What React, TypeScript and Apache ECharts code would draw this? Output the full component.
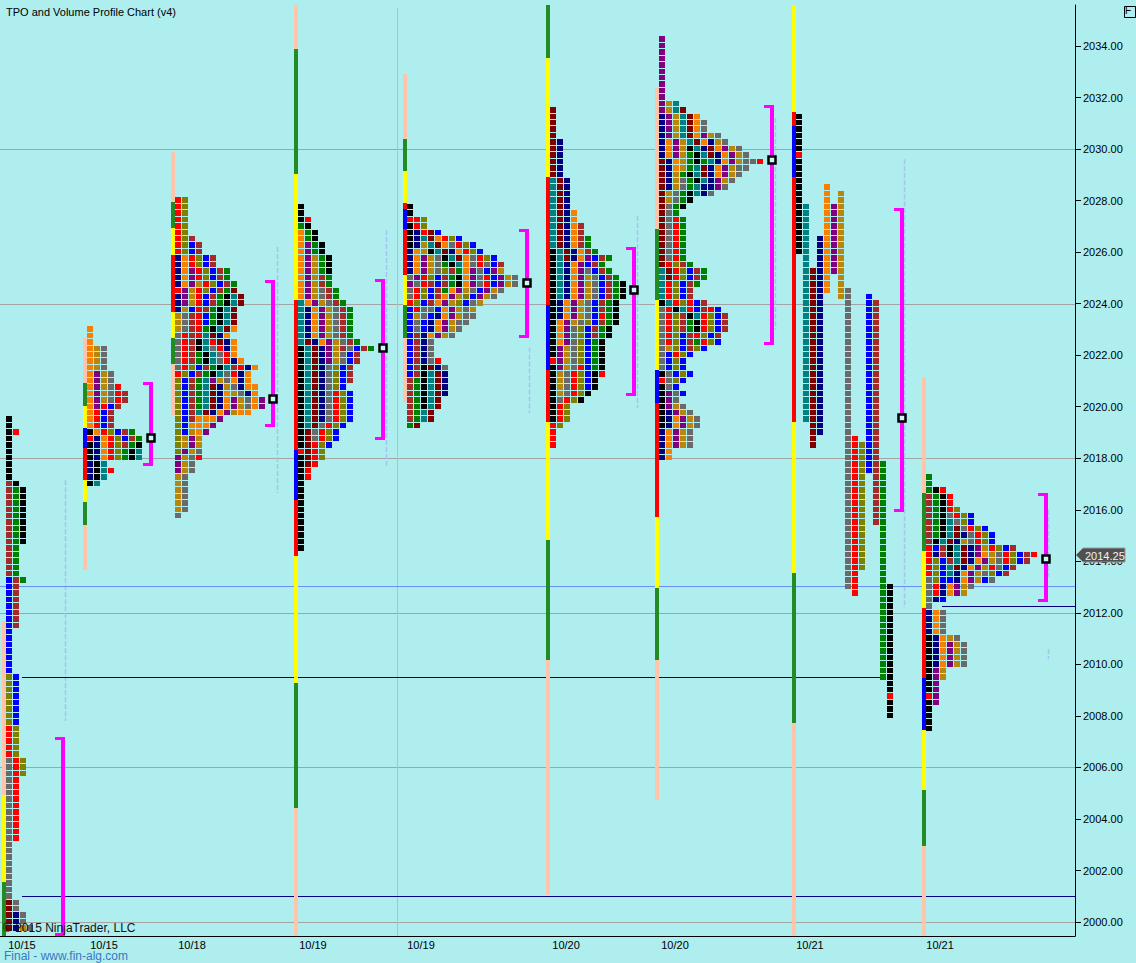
import React, { useEffect, useRef } from "react";
import * as echarts from "echarts";

// ---------- axes ----------
const TICK = 0.25;
const X_MAX = 153.57; // time slots (one TPO column each)
const Y_MIN = 1999.46;
const Y_MAX = 2035.59;
const PRICE_TICKS = [2000, 2002, 2004, 2006, 2008, 2010, 2012, 2014, 2016, 2018, 2020, 2022, 2024, 2026, 2028, 2030, 2032, 2034];
const GRID_LEVELS = [2000, 2006, 2012, 2018, 2024, 2030];
const SESSION_DATES = ["10/15", "10/15", "10/18", "10/19", "10/19", "10/20", "10/20", "10/21", "10/21"];
const DATE_LABEL_SLOTS = [3.14, 14.86, 27.43, 44.71, 60.14, 80.86, 96.43, 115.71, 134.29];
const LAST_PRICE = 2014.25;

// ---------- profiles ----------
const PROFILE_STARTS = [0.86, 12.43, 25.0, 42.57, 58.14, 78.57, 94.14, 113.71, 132.29];
const PROFILE_TOPS = [2019.5, 2023.0, 2028.0, 2027.75, 2027.75, 2031.5, 2034.25, 0, 2017.25];

const P1_ROWS = [
  "K", "K", "KR", "K", "K", "K", "K", "K", "K", "K",
  "WK",
  "WGK", "WGK", "WGK", "WGK", "WGK", "WGK", "WGK", "WGK", "WGK",
  "WG", "WG", "WG", "WG", "WG",
  "BWG",
  "BW", "BW", "BW", "BW", "BW", "BW", "BW",
  "B", "B", "B", "B", "B", "B", "B",
  "LB", "LB", "LB", "LB", "LB", "LB", "LB", "LB",
  "RL", "RL", "RL", "RL", "RL",
  "YRL", "YRL", "YRL",
  "YR", "YR", "YR", "YR", "YR", "YR", "YR", "YR", "YR", "YR",
  "Y", "Y", "Y", "Y", "Y", "Y", "Y", "Y", "Y",
  "MY", "MY", "MNY", "MNY", "MNDY",
];

const P2_ROWS = [
  "O", "O", "O", "ODY", "ODY", "ODY", "ODY", "OPDY", "OPDY", "OPDYR", "OPDYRW", "OPDYRW",
  "OPRBW", "ORBW", "ORBW", "ORBW", "KORLBWG", "RNORLBWG", "KNORLWGK", "KNORLGKT", "KNORLGKT",
  "NKT", "NKTR", "NKT", "KT",
];

const P3_ROWS = [
  "RL", "RL", "RL", "RL", "RL", "RL", "RLW", "RLBW", "RLBW", "NORLBW", "NORLBW",
  "NOPRLBWG", "NOPRLBWG", "NOPDRLBWG", "RPDRLBWGM", "NPDRBWGKTM", "NPDRBWGKTM", "NDBRWGKTM",
  "DYWRBGKTM", "DYWRBGKTM", "DYWRGKTMO", "YRWRTMNO", "YRWKTRMNO", "YRWKTYRNO", "YRWGKTYRO",
  "YRWGKTYRNO", "YRLBWGKTWRNO", "RLBWGKTYRNO", "LBWGTPDYONO", "LBWGTMNDYNOO", "LBWGTMNODYNO",
  "LBWGTMNOPDYOP", "LBWGTMNOPDYOP", "LBWTMNOPDOO", "LBWOOOP", "LBOOOP", "LBDOP",
  "LDPD", "LDPD", "LPDY", "PDYR", "PDY", "PDY", "DY", "DY", "DY", "DY", "DY", "DY", "Y",
];

const P4_ROWS = [
  "K", "K", "KR", "GK", "OGK", "OGK", "OPGK", "OPGK", "OPDGK", "OPDGK", "OPDGK", "OPDWG", "OPDWG",
  "OPDYWG", "OPDYWG", "TOPDYWG", "TNOPDYWG", "TNOPDYWG", "TNOPDYWG", "TNOPDYWG", "TNOPDYWG",
  "TMNOPDYWG", "KTMNPDWYBWG", "KTMNPDYBW", "KTMNPDYBW", "KTMNYLBW", "KTMNYLBW", "KTMNYLBW",
  "KTMNYLB", "KTMNYRLB", "KTMNYRLB", "KTMNYRLB", "KTMNYRLB", "KTMNYRLB", "KTMYRLB", "KMYRLB",
  "KMYRLB", "KMRLB", "RMRL", "KMRL", "KMR", "KR", "KR",
  "K", "K", "K", "K", "K", "K", "K", "K", "K", "K", "K",
];

const P5_ROWS = [
  "K", "K", "RRL", "KRL", "KNRMB", "KNTMORLB", "KNDTMOYRLB", "NODKTMNORLB", "NOPDYKTMOYRLB",
  "NOPDYGKTOYRYBW", "NOPDYLWGOPYBPD", "YPRLBWGKOPYRBPDY", "PYRWBWGKOPYRBPDY", "YRLBWGOPDYBPDY",
  "YRLBWOPDLBPDY", "RLBWOPDLBYD", "BRYYBOPDYD", "BDYBNOPDYY", "BYBNOPDYY", "BYBNOPDY", "BWNOPDY",
  "BWNY", "BWNY", "BWNY", "BWNYR", "BWKMNY", "BWKTMN", "WGKTMN", "WGKTMN", "WGKTMN", "WGKTM",
  "WGKTM", "WGTM", "WGTM", "GM",
];

const P6_ROWS = [
  "M", "M", "M", "M", "M", "MN", "MN", "MN", "MN", "MN", "MN", "TMN", "TMN", "TMN", "TMN", "TMN",
  "TMNO", "TMNO", "TMNOW", "TMNOW", "TMNOWG", "TMNOWG", "KTMNOWG", "KTMNOPBWG", "KTNOPBWG",
  "KTNOPYBWG", "KTNOPDYBWG", "KTNOPDYBWGK", "KTNOPDYBWGK", "KTNOPDYBWGK", "KNOPDYBWGK",
  "KNOPDYBWGK", "KNOPDYBRGK", "KOPDYLBWGK", "KOPYLBWGK", "KOPYLBWGK", "KOPYLBGK", "KPDYLBGK",
  "KPDYLBGK", "RPDYLBGK", "KPDYRBGK", "KDYRLBKR", "KDYRLBK", "KDYRLBK", "KDYRLK", "KYRLK",
  "KRL", "KRL", "KRL", "RL", "R", "R", "R",
];

const P7_ROWS = [
  "P", "P", "P", "P", "P", "P", "P", "P", "P", "P", "PDT", "PDTM", "NPDTMO", "NPDTMOY", "NPDTMOY",
  "NPDTMOPDY", "NOPDTMONDY", "NOPDKTNMOPDY", "NOPDGKTMNOPDY", "MNODGKGTNOPDYYR", "MNODGTMNOPDYY",
  "MNDGKTMNOPDY", "MNDYGKTNPDY", "MNDYGTNNPY", "MDYGKTNY", "MDYGK", "MYGK", "MYG",
  "MYRG", "MYRG", "MYRG", "MYRG", "MYRG", "MYRG", "MYRG", "MRLWG", "TMRLBWG", "TMRLBWG", "TRLBWG",
  "TRLBW", "TRLBW", "KTRLRBW", "YRKTRBWRB", "YRLWKTRLBW", "YRLWGKRLBW", "YRLWGKRLBW", "YRLBWRLBW",
  "YRLBWGRLB", "YDLBWLB", "YBRLB", "YBLB", "YBLB", "KYBLB", "RYLB", "KYB", "KPYB", "KPY", "KPDY",
  "KNPDY", "KNOPDY", "KNOPDY", "NOPDY", "NOPDY", "NOPDY", "NO", "NO",
];

// profile 8 is split: [column, letter colour, high, low]
const P8_SEGMENTS: [number, string, number, number][] = [
  [0, "K", 2031.25, 2030.0], [0, "R", 2029.75, 2029.75], [0, "K", 2029.5, 2026.0],
  [1, "T", 2027.75, 2019.5], [2, "M", 2025.25, 2018.5], [3, "N", 2026.5, 2019.0],
  [4, "O", 2028.5, 2024.5], [5, "P", 2027.75, 2025.25], [6, "D", 2028.25, 2024.25],
  [7, "Y", 2024.5, 2013.0], [8, "R", 2018.75, 2012.75], [9, "L", 2018.5, 2013.75],
  [10, "B", 2024.25, 2017.5], [11, "W", 2024.0, 2015.5], [12, "G", 2017.75, 2009.5],
  [13, "K", 2013.0, 2009.0], [13, "R", 2008.75, 2008.75], [13, "K", 2008.5, 2008.0],
];

const P9_ROWS = [
  "G", "G", "GKR", "WGKR", "WGKR", "WGKRL", "WGKYRLB", "WGKTYLB", "WGKTMYRLB", "WGKTMNYRLB",
  "WKTMNDYRLB", "RBWKTMNPDRLBW", "RNWKTMNPODYRLBWR", "RLBWTMNOPDYRLBW", "RLBTMNOPDRYBW",
  "RLBTNOPDYLBW", "YLBBNOPDBY", "YRNOPDY", "YRNOPD", "YNB", "Y", "NOY", "NOY", "NOY", "NOY",
  "KNODY", "KNOPDY", "KNOPDY", "KNOPDY", "KNOPDY", "KPD", "KPD", "KP", "KP", "RP", "KP",
  "K", "K", "K", "K",
];

// session range bars: price edges and phase codes
const BAR_EDGES = [
  [2011.68, 2004.93, 2001.55, 1999.46],
  [2022.67, 2020.92, 2020.03, 2019.17, 2018.4, 2017.16, 2016.3, 2015.41, 2013.66],
  [2029.89, 2027.95, 2026.94, 2025.89, 2023.68, 2022.67, 2021.66, 2019.68],
  [2035.59, 2033.88, 2029.03, 2024.14, 2018.32, 2016.38, 2014.21, 2009.28, 2004.43, 1999.46],
  [2032.91, 2030.39, 2029.15, 2027.9, 2027.67, 2026.9, 2025.1, 2023.95, 2022.67, 2020.18],
  [2035.59, 2033.53, 2028.92, 2023.95, 2021.42, 2019.41, 2014.83, 2010.17, 2001.05],
  [2032.37, 2026.9, 2024.14, 2021.42, 2020.14, 2015.72, 2012.96, 2010.17, 2004.74],
  [2035.59, 2031.44, 2030.9, 2028.92, 2019.41, 2013.55, 2007.72, 1999.46],
  [2021.15, 2016.65, 2014.4, 2012.19, 2009.47, 2007.45, 2005.12, 2002.95, 1999.46],
];
const BAR_PHASES = ["syg", "sgybrygs", "sgyrygs", "sgyrbrygs", "sgyrbrygs", "gyrbrygs", "sgybrygs", "yrbrygs", "sgyrbygs"];

// value areas: [slot, high, low, poc] (poc -1 = not shown)
const VALUE_AREAS = [
  [8.93, 2007.18, 1999.46, -1],
  [21.57, 2020.96, 2017.7, 2018.79],
  [39.0, 2024.92, 2019.2, 2020.3],
  [54.71, 2024.95, 2018.7, 2022.28],
  [75.29, 2026.9, 2022.67, 2024.8],
  [90.57, 2026.2, 2020.42, 2024.53],
  [110.29, 2031.71, 2022.4, 2029.58],
  [128.86, 2027.7, 2015.91, 2019.56],
  [149.43, 2016.65, 2012.42, 2014.09],
];

// faint volume-profile markers: [slot, high, low]
const FAINT_LINES = [
  [9.29, 2017.15, 2007.8], [39.57, 2026.2, 2016.65], [55.14, 2026.86, 2017.66],
  [75.57, 2022.3, 2019.75], [91.0, 2027.4, 2019.95], [110.71, 2031.2, 2023.0],
  [129.14, 2029.6, 2012.2], [149.71, 2016.0, 2013.4], [149.71, 2010.6, 2010.2],
];
const SESSION_DIVIDERS = [56.71];

// reference levels: [price, fromSlot, toSlot]
const LEVEL_LINES = [
  [2013.04, 0, 153.57],
  [2009.5, 3.14, 125.71],
  [2001.0, 3.14, 153.57],
  [2012.27, 134.57, 153.57],
];

// ---------- styles ----------
const CODES = "RNBKGTMWOPLDY";
const CODE_FILLS = ["#FF0000", "#000080", "#0000FF", "#000000", "#008000", "#008080", "#800000", "#A52A2A", "#F88000", "#800080", "#808000", "#B8860B", "#6A6A6A"];
const PHASE_FILLS: Record<string, string> = { s: "#FFC4AA", g: "#228B22", y: "#FFFF00", r: "#FF0000", b: "#0000FF" };
const LEVEL_COLORS = ["#6A8FF0", "#000070", "#000080", "#000080"];
const FONT = "'Liberation Sans', Arial, sans-serif";
const BG = "#AFEEEE";

function buildCells() {
  const out: number[][] = [];
  const rowsList = [P1_ROWS, P2_ROWS, P3_ROWS, P4_ROWS, P5_ROWS, P6_ROWS, P7_ROWS, null, P9_ROWS];
  rowsList.forEach((rows, i) => {
    if (!rows) return;
    rows.forEach((row, r) => {
      for (let j = 0; j < row.length; j++) {
        const ci = CODES.indexOf(row[j]);
        if (ci < 0) continue;
        out.push([PROFILE_STARTS[i] + j, PROFILE_TOPS[i] - r * TICK, ci]);
      }
    });
  });
  P8_SEGMENTS.forEach(([col, code, hi, lo]) => {
    for (let p = hi; p >= lo - 1e-6; p -= TICK) {
      out.push([PROFILE_STARTS[7] + col, p, CODES.indexOf(code)]);
    }
  });
  return out;
}

function buildBars() {
  const out: any[] = [];
  BAR_EDGES.forEach((edges, i) => {
    for (let k = 0; k < edges.length - 1; k++) {
      out.push([PROFILE_STARTS[i], edges[k], edges[k + 1], k, i]);
    }
  });
  return out;
}

function buildOption() {
  const cells = buildCells();
  const bars = buildBars();

  const cellSeries = {
    type: "custom",
    z: 5,
    progressive: 0,
    dimensions: ["x", "y", "c"],
    encode: { x: 0, y: 1 },
    data: cells,
    renderItem: (_p: any, api: any) => {
      const x = api.value(0), p = api.value(1), ci = api.value(2);
      const a = api.coord([x, p + TICK / 2]);
      const b = api.coord([x + 1, p - TICK / 2]);
      const x0 = Math.round(a[0]);
      const y0 = Math.round(a[1]);
      const y1 = Math.round(b[1]);
      return {
        type: "rect",
        shape: { x: x0, y: y0, width: Math.round(b[0]) - x0 - 1, height: Math.max(1, y1 - y0 - 1) },
        style: { fill: CODE_FILLS[ci] },
      };
    },
  };

  const barSeries = {
    type: "custom",
    z: 4,
    progressive: 0,
    encode: { x: 0, y: 1 },
    data: bars,
    renderItem: (_p: any, api: any) => {
      const s = api.value(0), hi = api.value(1), lo = api.value(2), k = api.value(3), i = api.value(4);
      const a = api.coord([s, hi]);
      const b = api.coord([s, lo]);
      const x = Math.round(a[0]);
      const y0 = Math.round(a[1]);
      return {
        type: "rect",
        shape: { x: x - 4, y: y0, width: 4, height: Math.round(b[1]) - y0 },
        style: { fill: PHASE_FILLS[BAR_PHASES[i][k]] },
      };
    },
  };

  const gridLineSeries = {
    type: "custom",
    z: 1,
    encode: { y: 0 },
    data: GRID_LEVELS.map((v) => [v]),
    renderItem: (_p: any, api: any) => {
      const a = api.coord([0, api.value(0)]);
      const b = api.coord([X_MAX, api.value(0)]);
      const y = Math.round(a[1]) + 0.5;
      return { type: "line", shape: { x1: a[0], y1: y, x2: b[0], y2: y }, style: { stroke: "#A3A3A3", lineWidth: 1 } };
    },
  };

  const dividerSeries = {
    type: "custom",
    z: 1,
    encode: { x: 0 },
    data: SESSION_DIVIDERS.map((v) => [v]),
    renderItem: (_p: any, api: any) => {
      const a = api.coord([api.value(0), Y_MAX]);
      const b = api.coord([api.value(0), Y_MIN]);
      const x = Math.round(a[0]) + 0.5;
      return { type: "line", shape: { x1: x, y1: a[1] + 3, x2: x, y2: b[1] }, style: { stroke: "#BDBDBD", lineWidth: 1 } };
    },
  };

  const faintSeries = {
    type: "custom",
    z: 2,
    encode: { x: 0, y: 1 },
    data: FAINT_LINES,
    renderItem: (_p: any, api: any) => {
      const a = api.coord([api.value(0), api.value(1)]);
      const b = api.coord([api.value(0), api.value(2)]);
      const x = Math.round(a[0]) + 0.5;
      return {
        type: "line",
        shape: { x1: x, y1: a[1], x2: x, y2: b[1] },
        style: { stroke: "#A8C2F4", lineWidth: 1.5, lineDash: [5, 2] },
      };
    },
  };

  const levelSeries = {
    type: "custom",
    z: 3,
    encode: { y: 0 },
    data: LEVEL_LINES.map((l, i) => [l[0], l[1], l[2], i]),
    renderItem: (_p: any, api: any) => {
      const a = api.coord([api.value(1), api.value(0)]);
      const b = api.coord([api.value(2), api.value(0)]);
      const y = Math.round(a[1]) + 0.5;
      return {
        type: "line",
        shape: { x1: a[0], y1: y, x2: b[0], y2: y },
        style: { stroke: LEVEL_COLORS[api.value(3)], lineWidth: 1 },
      };
    },
  };

  const vaSeries = {
    type: "custom",
    z: 6,
    encode: { x: 0, y: 1 },
    data: VALUE_AREAS,
    renderItem: (_p: any, api: any) => {
      const xs = api.value(0), hi = api.value(1), lo = api.value(2), poc = api.value(3);
      const a = api.coord([xs, hi]);
      const b = api.coord([xs, lo]);
      const x = Math.round(a[0]);
      const yT = Math.round(a[1]);
      const yB = Math.round(b[1]);
      const children: any[] = [
        { type: "rect", shape: { x: x - 2, y: yT, width: 4, height: yB - yT }, style: { fill: "#FF00FF" } },
        { type: "rect", shape: { x: x - 8, y: yT, width: 8, height: 3 }, style: { fill: "#FF00FF" } },
        { type: "rect", shape: { x: x - 8, y: yB - 3, width: 8, height: 3 }, style: { fill: "#FF00FF" } },
      ];
      if (poc > 0) {
        const yp = Math.round(api.coord([xs, poc])[1]);
        children.push({
          type: "rect",
          shape: { x: x - 3.5, y: yp - 3.5, width: 7, height: 7 },
          style: { fill: "#CFF7F7", stroke: "#000", lineWidth: 2.5 },
        });
      }
      return { type: "group", children };
    },
  };

  const priceTagSeries = {
    type: "custom",
    z: 8,
    encode: { x: 0, y: 1 },
    data: [[X_MAX, LAST_PRICE]],
    renderItem: (_p: any, api: any) => {
      const a = api.coord([api.value(0), api.value(1)]);
      const x0 = Math.round(a[0]) + 1;
      const y = Math.round(a[1]);
      return {
        type: "group",
        children: [
          {
            type: "polygon",
            shape: { points: [[x0, y], [x0 + 7, y - 7], [x0 + 49, y - 7], [x0 + 49, y + 7], [x0 + 7, y + 7]] },
            style: { fill: "#505050", stroke: "#9A9A9A", lineWidth: 1 },
          },
          {
            type: "text",
            style: {
              x: x0 + 9, y: y + 0.5, text: LAST_PRICE.toFixed(2), fill: "#F2F2F2",
              font: `11px ${FONT}`, verticalAlign: "middle", align: "left",
            },
          },
        ],
      };
    },
  };

  return {
    animation: false,
    backgroundColor: BG,
    grid: { left: 0, right: 61, top: 5, bottom: 27, containLabel: false },
    xAxis: {
      type: "value",
      min: 0,
      max: X_MAX,
      axisLine: { show: true, onZero: false, lineStyle: { color: "#000", width: 1 } },
      axisTick: { show: false },
      splitLine: { show: false },
      axisLabel: {
        customValues: DATE_LABEL_SLOTS,
        formatter: (v: number) => {
          let best = 0;
          DATE_LABEL_SLOTS.forEach((s, i) => {
            if (Math.abs(s - v) < Math.abs(DATE_LABEL_SLOTS[best] - v)) best = i;
          });
          return SESSION_DATES[best];
        },
        color: "#000",
        fontSize: 11,
        fontFamily: FONT,
        margin: 3,
      },
    },
    yAxis: {
      type: "value",
      position: "right",
      min: Y_MIN,
      max: Y_MAX,
      axisLine: { show: true, onZero: false, lineStyle: { color: "#000", width: 1 } },
      axisTick: { show: true, length: 6, customValues: PRICE_TICKS, lineStyle: { color: "#000" } },
      splitLine: { show: false },
      axisLabel: {
        customValues: PRICE_TICKS,
        formatter: (v: number) => v.toFixed(2),
        color: "#000",
        fontSize: 11,
        fontFamily: FONT,
        margin: 8,
      },
    },
    graphic: [
      {
        type: "text", left: 6, top: 6, z: 10,
        style: { text: "TPO and Volume Profile Chart (v4)", fill: "#000", font: `11px ${FONT}` },
      },
      {
        type: "rect", left: 1122, top: 4, z: 10,
        shape: { width: 11, height: 11 },
        style: { fill: "none", stroke: "#000", lineWidth: 1 },
      },
      {
        type: "text", left: 1125, top: 5, z: 10,
        style: { text: "F", fill: "#000", font: `10px ${FONT}` },
      },
      {
        type: "text", left: 3, top: 922, z: 10,
        style: { text: "© 2015 NinjaTrader, LLC", fill: "#111", font: `12px ${FONT}` },
      },
      {
        type: "text", left: 4, top: 950, z: 10,
        style: { text: "Final - www.fin-alg.com", fill: "#3A76C4", font: `12px ${FONT}` },
      },
    ],
    series: [gridLineSeries, dividerSeries, faintSeries, levelSeries, barSeries, cellSeries, vaSeries, priceTagSeries],
  };
}

export default function App() {
  const ref = useRef<HTMLDivElement>(null);
  useEffect(() => {
    if (!ref.current) return;
    const chart = echarts.init(ref.current, null, { renderer: "svg" });
    chart.setOption(buildOption() as any);
    return () => chart.dispose();
  }, []);
  return <div ref={ref} style={{ position: "fixed", left: 0, top: 0, width: 1136, height: 963 }} />;
}
